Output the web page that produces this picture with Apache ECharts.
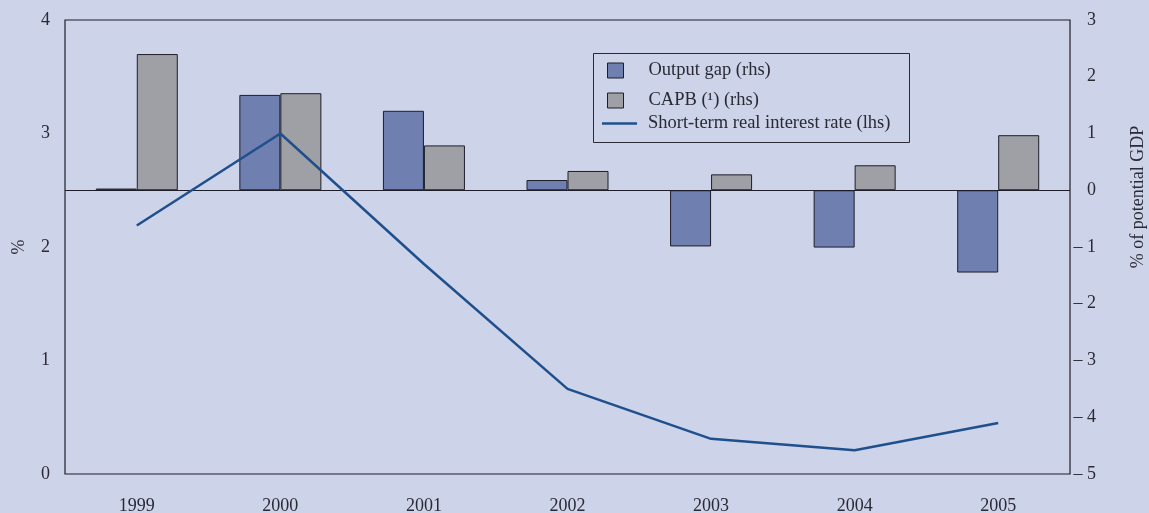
<!DOCTYPE html>
<html>
<head>
<meta charset="utf-8">
<script src="https://cdn.jsdelivr.net/npm/echarts@6/dist/echarts.min.js"></script>
<style>
html,body{margin:0;padding:0;background:#cdd3e8;}
#chart{width:1149px;height:513px;}
</style>
</head>
<body>
<div id="chart"></div>
<script>
const categories = ['1999','2000','2001','2002','2003','2004','2005'];
const outputGap = [0.03, 1.68, 1.40, 0.18, -0.99, -1.01, -1.45];
const capb = [2.40, 1.71, 0.79, 0.34, 0.28, 0.44, 0.97];
const realRate = [2.19, 3.00, 1.85, 0.75, 0.31, 0.21, 0.45];
const seriesNames = ['Output gap (rhs)', 'CAPB (\u00B9) (rhs)', 'Short-term real interest rate (lhs)'];

const FONT = '"Liberation Serif", "Times New Roman", serif';
const TXT = '#2a2a35';
const FS = 18;
const LFS = 18.5;
const chart = echarts.init(document.getElementById('chart'), null, {renderer: 'canvas'});
chart.setOption({
  backgroundColor: '#cdd3e8',
  animation: false,
  textStyle: {fontFamily: FONT},
  grid: {left: 65, right: 79, top: 20, bottom: 39, show: true, borderColor: '#1e1e2a', borderWidth: 1.2, backgroundColor: 'transparent', containLabel: false, outerBoundsMode: 'none'},
  legend: [
    {
      data: [seriesNames[0], seriesNames[1]],
      orient: 'vertical', left: 607, top: 61, padding: 0,
      itemWidth: 16, itemHeight: 15, itemGap: 11,
      icon: 'rect',
      itemStyle: {borderColor: '#1e1e2a', borderWidth: 1},
      textStyle: {fontFamily: FONT, fontSize: LFS, color: TXT, padding: [0, 0, 0, 20]}
    },
    {
      data: [seriesNames[2]],
      orient: 'vertical', left: 602, top: 114, padding: 0,
      icon: 'rect', itemWidth: 35, itemHeight: 2.5,
      itemStyle: {color: '#1f4f8c', borderWidth: 0},
      textStyle: {fontFamily: FONT, fontSize: LFS, color: TXT, padding: [0, 0, 0, 6]}
    }
  ],
  graphic: [{
    type: 'rect', left: 591, top: 51, silent: true,
    shape: {width: 316, height: 89},
    style: {fill: 'none', stroke: '#2a2a35', lineWidth: 1}
  }],
  xAxis: {
    type: 'category', data: categories,
    axisLine: {show: false}, axisTick: {show: false},
    axisLabel: {fontFamily: FONT, fontSize: FS, color: TXT, margin: 23},
    splitLine: {show: false}
  },
  yAxis: [
    {
      type: 'value', min: 0, max: 4, interval: 1, position: 'left',
      name: '%', nameLocation: 'middle', nameGap: 37,
      nameTextStyle: {fontFamily: FONT, fontSize: FS, color: TXT},
      axisLine: {show: false}, axisTick: {show: false}, splitLine: {show: false},
      axisLabel: {fontFamily: FONT, fontSize: FS, color: TXT, margin: 15}
    },
    {
      type: 'value', min: -5, max: 3, interval: 1, position: 'right',
      name: '% of potential GDP', nameLocation: 'middle', nameGap: 59,
      nameTextStyle: {fontFamily: FONT, fontSize: FS, color: TXT, padding: [0, 0, 0, 100]},
      axisLine: {show: false}, axisTick: {show: false}, splitLine: {show: false},
      axisLabel: {
        fontFamily: FONT, fontSize: FS, color: TXT, margin: 26, align: 'right',
        formatter: v => v < 0 ? '\u2013 ' + Math.abs(v) : String(v)
      }
    }
  ],
  series: [
    {
      name: seriesNames[0], type: 'bar', yAxisIndex: 1, data: outputGap,
      barWidth: 41, barGap: '0%',
      itemStyle: {color: '#6e7fb0', borderColor: '#1e1e2a', borderWidth: 1},
      markLine: {
        silent: true, symbol: 'none', label: {show: false},
        lineStyle: {color: '#1e1e2a', width: 1.2, type: 'solid'},
        data: [{yAxis: 0}]
      }
    },
    {
      name: seriesNames[1], type: 'bar', yAxisIndex: 1, data: capb,
      barWidth: 41, barGap: '0%',
      itemStyle: {color: '#9fa0a5', borderColor: '#1e1e2a', borderWidth: 1}
    },
    {
      name: seriesNames[2], type: 'line', yAxisIndex: 0, data: realRate,
      symbol: 'none', z: 5,
      lineStyle: {color: '#1f4f8c', width: 2.5},
      itemStyle: {color: '#1f4f8c'}
    }
  ]
});
</script>
</body>
</html>
